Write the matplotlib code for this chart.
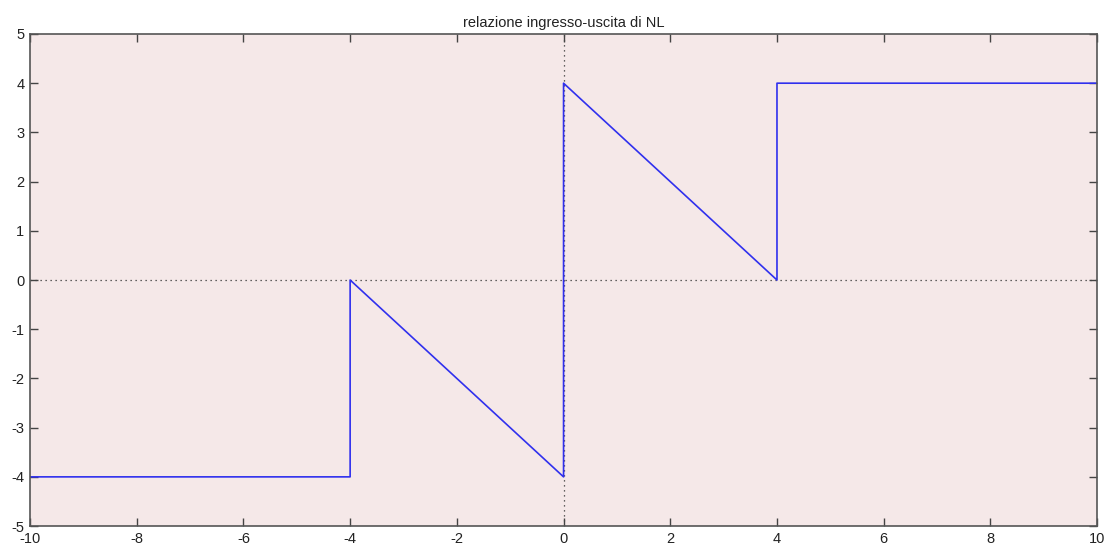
import matplotlib

matplotlib.use("Agg")
import matplotlib.pyplot as plt

# input-output characteristic of the nonlinearity NL
x_in = [-10, -4, -4, 0, 0, 4, 4, 10]
y_out = [-4, -4, 0, -4, 4, 0, 4, 4]

x_ticks = [-10, -8, -6, -4, -2, 0, 2, 4, 6, 8, 10]
y_ticks = [-5, -4, -3, -2, -1, 0, 1, 2, 3, 4, 5]

plt.rcParams["font.family"] = ["Liberation Sans", "DejaVu Sans"]

fig = plt.figure(figsize=(11.11, 5.48), dpi=100)
fig.patch.set_facecolor("white")
ax = fig.add_axes([0.027, 0.04, 0.9605, 0.898])
ax.set_facecolor("#f5e8e8")

ax.axhline(0, color="#333333", linestyle=(0, (1, 3)), linewidth=0.9, zorder=1)
ax.axvline(0, color="#333333", linestyle=(0, (1, 3)), linewidth=0.9, zorder=1)
ax.plot(x_in, y_out, color="#3030ee", linewidth=1.2, zorder=2)

ax.set_xlim(-10, 10)
ax.set_ylim(-5, 5)
ax.set_xticks(x_ticks)
ax.set_yticks(y_ticks)
ax.set_xticklabels([str(v) for v in x_ticks])
ax.set_yticklabels([str(v) for v in y_ticks])
ax.tick_params(direction="in", top=True, right=True, length=6, width=1,
               colors="#444444", labelcolor="#222222", labelsize=10.5)
ax.tick_params(axis="x", pad=4)
ax.tick_params(axis="y", pad=4)
for s in ax.spines.values():
    s.set_color("#555555")
    s.set_linewidth(1.2)

ax.set_title("relazione ingresso-uscita di NL", fontsize=10.5, color="#222222", pad=5)

fig.savefig("out.png", dpi=100, facecolor="white")
